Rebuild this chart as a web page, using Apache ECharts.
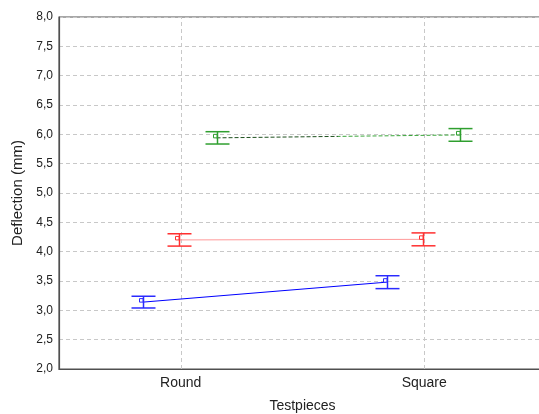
<!DOCTYPE html>
<html>
<head>
<meta charset="utf-8">
<script src="https://cdn.jsdelivr.net/npm/echarts@6/dist/echarts.min.js"></script>
<style>
  html, body { margin: 0; padding: 0; background: #fff; }
  #chart { width: 539px; height: 414px; }
</style>
</head>
<body>
<div id="chart"></div>
<script>
// Deflection by test piece shape, three groups, mean ± error
const categories = ['Round', 'Square'];
const yTicks = [2.0, 2.5, 3.0, 3.5, 4.0, 4.5, 5.0, 5.5, 6.0, 6.5, 7.0, 7.5, 8.0];

const blueMean = [3.14, 3.48];
const blueErr = [0.10, 0.11];
const redMean = [4.20, 4.21];
const redErr = [0.105, 0.11];
const greenMean = [5.94, 5.99];
const greenErr = [0.105, 0.108];

// horizontal dodge of each group around the category centre
const groups = [
  { mean: blueMean, err: blueErr, dx: -0.155, bar: '#2a2aff', line: '#0000ff', lineType: 'solid' },
  { mean: redMean, err: redErr, dx: -0.006, bar: '#ff3030', line: '#ff9a9a', lineType: 'solid' },
  { mean: greenMean, err: greenErr, dx: 0.147, bar: '#2f9f2f',
    line: new echarts.graphic.LinearGradient(0, 0, 1, 0, [
      { offset: 0, color: '#1d4f1d' }, { offset: 0.5, color: '#1d4f1d' },
      { offset: 0.5, color: '#3aa53a' }, { offset: 1, color: '#3aa53a' }
    ]),
    lineType: [4, 2] }
];

const fmt = v => v.toFixed(1).replace('.', ',');
const gridLineStyle = { color: '#c8c8c8', type: [4, 3], width: 1 };

const series = [];
groups.forEach((g, gi) => {
  const pts = categories.map((c, i) => [i + g.dx, g.mean[i]]);
  const s = {
    type: 'line',
    xAxisIndex: 1,
    data: pts,
    symbol: 'none',
    silent: true,
    lineStyle: { color: g.line, width: 1, type: g.lineType },
    z: 2
  };
  if (gi === 0) {
    // vertical grid lines through the category centres
    s.markLine = {
      silent: true,
      symbol: 'none',
      label: { show: false },
      lineStyle: gridLineStyle,
      z: 1,
      data: categories.map((c, i) => ({ xAxis: i }))
    };
  }
  series.push(s);
  series.push({
    type: 'custom',
    xAxisIndex: 1,
    data: categories.map((c, i) => [i + g.dx, g.mean[i], g.mean[i] - g.err[i], g.mean[i] + g.err[i]]),
    renderItem: (params, api) => {
      const top = api.coord([api.value(0), api.value(3)]);
      const bot = api.coord([api.value(0), api.value(2)]);
      const mid = api.coord([api.value(0), api.value(1)]);
      const x = Math.round(top[0]) + 0.5;
      const half = 12;
      const style = { stroke: g.bar, lineWidth: 1.5, fill: null };
      return {
        type: 'group',
        children: [
          { type: 'line', shape: { x1: x, y1: top[1], x2: x, y2: bot[1] }, style },
          { type: 'line', shape: { x1: x - half, y1: top[1], x2: x + half, y2: top[1] }, style },
          { type: 'line', shape: { x1: x - half, y1: bot[1], x2: x + half, y2: bot[1] }, style },
          { type: 'rect', shape: { x: x - 4, y: mid[1] - 3.5, width: 3.5, height: 3.5 },
            style: { stroke: g.bar, lineWidth: 1, fill: '#fff' } }
        ]
      };
    },
    z: 3
  });
});

const chart = echarts.init(document.getElementById('chart'), null, { renderer: 'canvas' });
chart.setOption({
  animation: false,
  backgroundColor: '#ffffff',
  grid: {
    left: 59, right: -7, top: 17, bottom: 45,
    outerBoundsMode: 'none',
    show: true, borderColor: '#505050', borderWidth: 1.2, containLabel: false
  },
  xAxis: [
    {
      type: 'category',
      data: categories,
      boundaryGap: true,
      name: 'Testpieces',
      nameLocation: 'middle',
      nameGap: 30,
      nameTextStyle: { fontFamily: 'Liberation Sans, Arial, sans-serif', fontSize: 14, color: '#222' },
      axisLine: { onZero: false, lineStyle: { color: '#505050', width: 1.2 } },
      axisTick: { show: false },
      axisLabel: { fontFamily: 'Liberation Sans, Arial, sans-serif', fontSize: 14, color: '#222', margin: 7 },
      splitLine: { show: false }
    },
    {
      type: 'value',
      min: -0.5,
      max: 1.5,
      show: false,
      splitLine: { show: false }
    }
  ],
  yAxis: {
    type: 'value',
    min: yTicks[0],
    max: yTicks[yTicks.length - 1],
    interval: 0.5,
    name: 'Deflection (mm)',
    nameLocation: 'middle',
    nameGap: 34,
    nameTextStyle: { fontFamily: 'Liberation Sans, Arial, sans-serif', fontSize: 15, color: '#222' },
    axisLine: { show: true, onZero: false, lineStyle: { color: '#505050', width: 1.2 } },
    axisTick: { show: false },
    axisLabel: { fontFamily: 'Liberation Sans, Arial, sans-serif', fontSize: 12, color: '#222', margin: 6, formatter: fmt },
    splitLine: { show: true, lineStyle: gridLineStyle }
  },
  series
});
</script>
</body>
</html>
